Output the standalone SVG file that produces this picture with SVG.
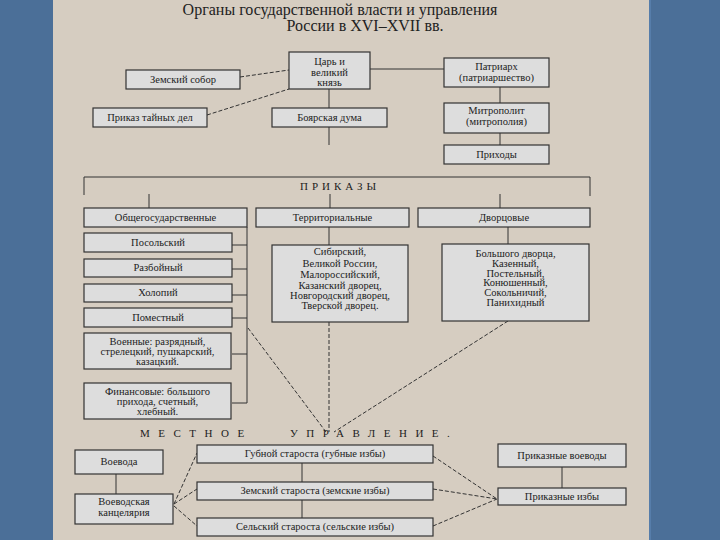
<svg xmlns="http://www.w3.org/2000/svg" width="720" height="540" viewBox="0 0 720 540">
<style>
.bg{fill:#d6cdc1}
.side{fill:#4b6f98}
.box{fill:#dddddd;stroke:#333;stroke-width:1.2}
.t{font-family:"Liberation Serif","DejaVu Serif",serif;font-size:10.5px;fill:#222;text-anchor:middle}
.title{font-family:"Liberation Serif","DejaVu Serif",serif;font-size:16px;fill:#222;text-anchor:middle}
.sp{font-family:"Liberation Serif","DejaVu Serif",serif;font-size:11px;fill:#222;letter-spacing:4px}
.sp2{font-family:"Liberation Serif","DejaVu Serif",serif;font-size:11px;fill:#222;letter-spacing:8.5px}
.ln{stroke:#333;stroke-width:1;fill:none}
.dash{stroke:#333;stroke-width:1;fill:none;stroke-dasharray:4 2}
</style>
<rect class="bg" x="0" y="0" width="720" height="540"/>
<rect class="side" x="0" y="0" width="53" height="540"/>
<rect class="side" x="649" y="0" width="71" height="540"/>
<line x1="650" y1="0" x2="650" y2="540" stroke="#5a82b0" stroke-width="1.5"/>

<text class="title" x="340" y="15">Органы государственной власти и управления</text>
<text class="title" x="365" y="31">России в XVI–XVII вв.</text>

<g id="connectors">
  <line class="dash" x1="240" y1="77" x2="289" y2="70"/>
  <line class="dash" x1="207" y1="115" x2="289" y2="89"/>
  <line class="ln" x1="370" y1="69" x2="444" y2="69"/>
  <line class="ln" x1="329" y1="89" x2="329" y2="108"/>
  <line class="ln" x1="329" y1="127" x2="329" y2="145"/>
  <line class="ln" x1="500" y1="87" x2="500" y2="103"/>
  <line class="ln" x1="500" y1="133" x2="500" y2="145"/>
  <polyline class="ln" points="84,195 84,177 590,177 590,196"/>
  <line class="ln" x1="149" y1="194" x2="149" y2="208"/>
  <line class="ln" x1="330" y1="194" x2="330" y2="208"/>
  <line class="ln" x1="500" y1="194" x2="500" y2="208"/>
  <line class="ln" x1="247" y1="227" x2="247" y2="403"/>
  <line class="ln" x1="232" y1="245" x2="247" y2="245"/>
  <line class="ln" x1="232" y1="269" x2="247" y2="269"/>
  <line class="ln" x1="232" y1="295" x2="247" y2="295"/>
  <line class="ln" x1="232" y1="318" x2="247" y2="318"/>
  <line class="ln" x1="232" y1="354" x2="247" y2="354"/>
  <line class="ln" x1="232" y1="403" x2="247" y2="403"/>
  <line class="ln" x1="329" y1="227" x2="329" y2="245"/>
  <line class="ln" x1="508" y1="227" x2="508" y2="244"/>
  <line class="dash" x1="329" y1="322" x2="329" y2="432"/>
  <line class="dash" x1="248" y1="328" x2="326" y2="432"/>
  <line class="dash" x1="508" y1="321" x2="334" y2="432"/>
  <line class="ln" x1="116" y1="474" x2="116" y2="494"/>
  <line class="ln" x1="302" y1="463" x2="302" y2="482"/>
  <line class="ln" x1="302" y1="500" x2="302" y2="518"/>
  <line class="ln" x1="562" y1="467" x2="562" y2="488"/>
  <line class="dash" x1="174" y1="504" x2="197" y2="453"/>
  <line class="dash" x1="174" y1="504" x2="197" y2="489"/>
  <line class="dash" x1="174" y1="506" x2="197" y2="526"/>
  <line class="dash" x1="433" y1="456" x2="497" y2="499"/>
  <line class="dash" x1="433" y1="489" x2="497" y2="499"/>
  <line class="dash" x1="433" y1="526" x2="497" y2="499"/>
</g>

<g id="tsar"><rect class="box" x="289" y="52" width="81" height="37"/>
<text class="t" x="329.5" y="64.5">Царь и</text><text class="t" x="329.5" y="75.5">великий</text><text class="t" x="329.5" y="86">князь</text></g>
<g id="zemsky-sobor"><rect class="box" x="126" y="70" width="114" height="19"/><text class="t" x="183" y="82.5">Земский собор</text></g>
<g id="prikaz-tainykh"><rect class="box" x="93" y="108" width="114" height="19"/><text class="t" x="150" y="120.5">Приказ тайных дел</text></g>
<g id="boyar-duma"><rect class="box" x="272" y="108" width="115" height="19"/><text class="t" x="329.5" y="120.5">Боярская дума</text></g>
<g id="patriarch"><rect class="box" x="444" y="58" width="105" height="29"/>
<text class="t" x="496.5" y="70">Патриарх</text><text class="t" x="496.5" y="81">(патриаршество)</text></g>
<g id="metropolitan"><rect class="box" x="444" y="103" width="105" height="30"/>
<text class="t" x="496.5" y="114">Митрополит</text><text class="t" x="496.5" y="125">(митрополия)</text></g>
<g id="parishes"><rect class="box" x="444" y="145" width="105" height="19"/><text class="t" x="496.5" y="157.5">Приходы</text></g>

<text class="sp" x="300" y="190">ПРИКАЗЫ</text>

<g id="obshchegos"><rect class="box" x="84" y="208" width="163" height="19"/><text class="t" x="165.5" y="221">Общегосударственные</text></g>
<g id="territorial"><rect class="box" x="256" y="208" width="153" height="19"/><text class="t" x="332.5" y="221">Территориальные</text></g>
<g id="dvortsovye"><rect class="box" x="418" y="208" width="172" height="19"/><text class="t" x="504" y="221">Дворцовые</text></g>

<g id="posolsky"><rect class="box" x="84" y="233" width="148" height="19"/><text class="t" x="158" y="245.5">Посольский</text></g>
<g id="razboiny"><rect class="box" x="84" y="259" width="148" height="18"/><text class="t" x="158" y="271">Разбойный</text></g>
<g id="kholopy"><rect class="box" x="84" y="284" width="148" height="18"/><text class="t" x="158" y="296">Холопий</text></g>
<g id="pomestny"><rect class="box" x="84" y="308" width="148" height="19"/><text class="t" x="158" y="320.5">Поместный</text></g>
<g id="voennye"><rect class="box" x="84" y="333" width="147" height="36"/>
<text class="t" x="157.5" y="345">Военные: разрядный,</text><text class="t" x="157.5" y="355">стрелецкий, пушкарский,</text><text class="t" x="157.5" y="365">казацкий.</text></g>
<g id="finansovye"><rect class="box" x="84" y="383" width="147" height="36"/>
<text class="t" x="157.5" y="395">Финансовые: большого</text><text class="t" x="157.5" y="405">прихода, счетный,</text><text class="t" x="157.5" y="415">хлебный.</text></g>

<g id="territorial-list"><rect class="box" x="272" y="245" width="136" height="77"/>
<text class="t" x="340" y="255">Сибирский,</text><text class="t" x="340" y="267">Великой России,</text><text class="t" x="340" y="278">Малороссийский,</text><text class="t" x="340" y="289">Казанский дворец,</text><text class="t" x="340" y="299">Новгородский дворец,</text><text class="t" x="340" y="309">Тверской дворец.</text></g>
<g id="dvortsovye-list"><rect class="box" x="442" y="244" width="147" height="77"/>
<text class="t" x="515.5" y="257">Большого дворца,</text><text class="t" x="515.5" y="267">Казенный,</text><text class="t" x="515.5" y="276.5">Постельный,</text><text class="t" x="515.5" y="286">Конюшенный,</text><text class="t" x="515.5" y="295.5">Сокольничий,</text><text class="t" x="515.5" y="306">Панихидный</text></g>

<text class="sp2" x="140" y="437">МЕСТНОЕ</text>
<text class="sp2" x="290" y="437">УПРАВЛЕНИЕ.</text>

<g id="voevoda"><rect class="box" x="75" y="450" width="88" height="24"/><text class="t" x="119" y="465">Воевода</text></g>
<g id="voevod-kants"><rect class="box" x="75" y="494" width="98" height="30"/>
<text class="t" x="124" y="505">Воеводская</text><text class="t" x="124" y="516">канцелярия</text></g>
<g id="gubnoy"><rect class="box" x="197" y="445" width="236" height="18"/><text class="t" x="315" y="457">Губной староста (губные избы)</text></g>
<g id="zemsky-starosta"><rect class="box" x="197" y="482" width="236" height="18"/><text class="t" x="315" y="494">Земский староста (земские избы)</text></g>
<g id="selsky"><rect class="box" x="197" y="518" width="236" height="18"/><text class="t" x="315" y="530">Сельский староста (сельские избы)</text></g>
<g id="prikaz-voevody"><rect class="box" x="498" y="444" width="128" height="23"/><text class="t" x="562" y="458.5">Приказные воеводы</text></g>
<g id="prikaz-izby"><rect class="box" x="498" y="488" width="128" height="17"/><text class="t" x="562" y="499.5">Приказные избы</text></g>
</svg>
